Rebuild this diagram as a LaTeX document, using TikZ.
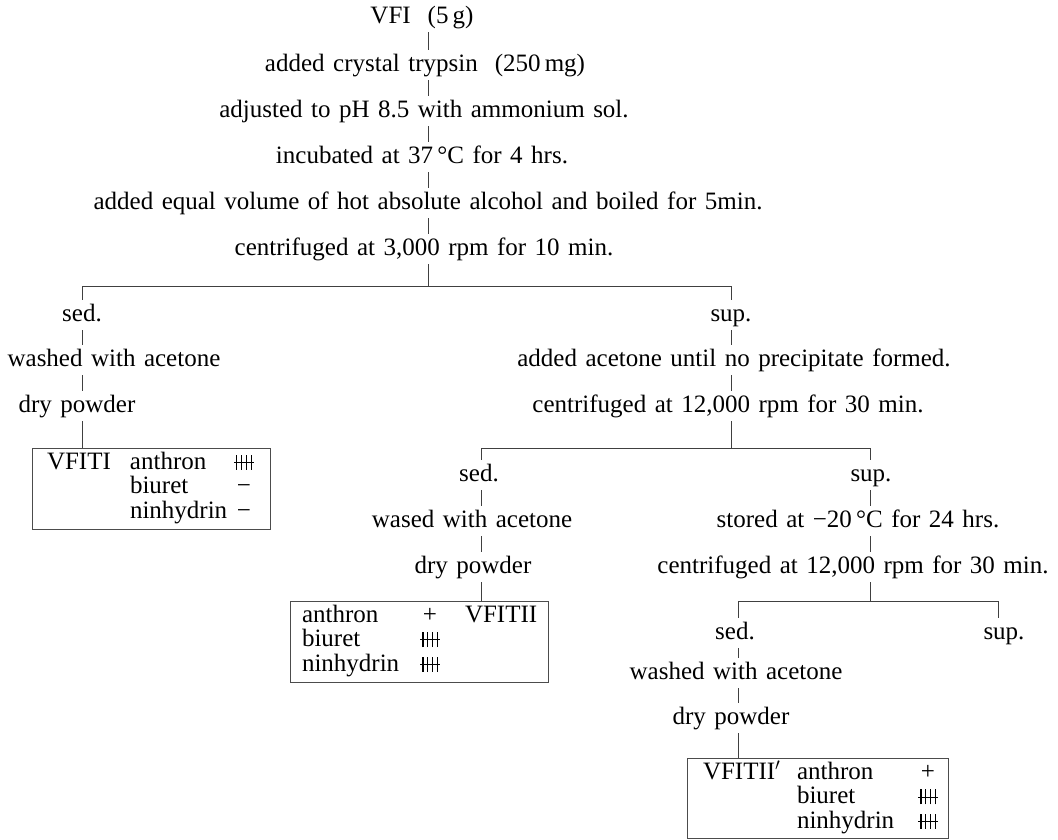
\documentclass[tikz,border=0pt]{standalone}
\usepackage{fontspec}
\setmainfont{Liberation Serif}
\newcommand{\ff}{\fontsize{25}{23.5}\selectfont\spaceskip=8.5pt\relax}
\newcommand{\tally}{\makebox[16pt][c]{\rlap{\kern-2pt\rule[6.5pt]{19.5pt}{0.8pt}}\rule[-0.5pt]{1.1pt}{15pt}\kern3.6pt\rule[-0.5pt]{1.1pt}{15pt}\kern3.6pt\rule[-0.5pt]{1.1pt}{15pt}\kern3.6pt\rule[-0.5pt]{1.1pt}{15pt}}}
\tikzset{
  lbl/.style={inner xsep=0pt, inner ysep=3pt, outer sep=0pt, text height=18pt, text depth=6pt, font=\ff},
  conn/.style={line width=0.9pt, draw=black!75},
  res/.style={draw=black!70, line width=0.8pt, anchor=north west, inner xsep=0pt, inner ysep=0pt, outer sep=0pt, align=left, font=\ff},
}
\begin{document}
\begin{tikzpicture}[x=1pt,y=-1pt]
\useasboundingbox (0,0) rectangle (1058,839);
% main column
\coordinate (s0) at (428,0);
\node[lbl] (n1) at (422,17) {VFI\ \ (5\,g)};
\node[lbl] (n2) at (425,65) {added crystal trypsin\ \ (250\,mg)};
\node[lbl] (n3) at (424,111) {adjusted to pH 8.5 with ammonium sol.};
\node[lbl] (n4) at (422,157) {incubated at 37\,°C for 4 hrs.};
\node[lbl] (n5) at (428,203) {added equal volume of hot absolute alcohol and boiled for 5min.};
\node[lbl] (n6) at (424,249) {centrifuged at 3,000 rpm for 10 min.};
\draw[conn] (n1.south -| s0) -- (n2.north -| s0);
\draw[conn] (n2.south -| s0) -- (n3.north -| s0);
\draw[conn] (n3.south -| s0) -- (n4.north -| s0);
\draw[conn] (n4.south -| s0) -- (n5.north -| s0);
\draw[conn] (n5.south -| s0) -- (n6.north -| s0);
\coordinate (j1) at (428,286);
\coordinate (j1l) at (82,286);
\coordinate (j1r) at (731,286);
\draw[conn] (n6.south -| s0) -- (j1);
\draw[conn] (j1l) -- (j1r);
% left branch
\node[lbl] (a1) at (82,315) {sed.};
\node[lbl] (a2) at (114,360) {washed with acetone};
\node[lbl] (a3) at (77,406) {dry powder};
\node[res, minimum width=238, minimum height=81, text width=238] (box1) at (32,448)
  {\begin{tabular}{@{\hspace*{15pt}}p{83pt}@{}p{106pt}@{}l@{}}
   VFITI & anthron & \tally\\
         & biuret & \makebox[16pt][c]{−}\\
         & ninhydrin & \makebox[16pt][c]{−}
   \end{tabular}};
\draw[conn] (j1l) -- (a1.north -| j1l);
\draw[conn] (a1.south -| j1l) -- (a2.north -| j1l);
\draw[conn] (a2.south -| j1l) -- (a3.north -| j1l);
\draw[conn] (a3.south -| j1l) -- (box1.north -| j1l);
% right branch
\node[lbl] (b1) at (731,315) {sup.};
\node[lbl] (b2) at (734,360) {added acetone until no precipitate formed.};
\node[lbl] (b3) at (728,406) {centrifuged at 12,000 rpm for 30 min.};
\draw[conn] (j1r) -- (b1.north -| j1r);
\draw[conn] (b1.south -| j1r) -- (b2.north -| j1r);
\draw[conn] (b2.south -| j1r) -- (b3.north -| j1r);
\coordinate (j2) at (731,448);
\coordinate (j2l) at (481,448);
\coordinate (j2r) at (870,448);
\draw[conn] (b3.south -| j1r) -- (j2);
\draw[conn] (j2l) -- (j2r);
% sub-left
\node[lbl] (c1) at (479,475) {sed.};
\node[lbl] (c2) at (472,521) {wased with acetone};
\node[lbl] (c3) at (473,567) {dry powder};
\node[res, minimum width=258, minimum height=81, text width=258] (box2) at (290,601)
  {\begin{tabular}{@{\hspace*{12pt}}p{120pt}@{}c@{\hspace{27pt}}l@{}}
   anthron & \makebox[16pt][c]{+} & VFITII\\
   biuret & \makebox[16pt][c]{\tally} & \\
   ninhydrin & \makebox[16pt][c]{\tally} &
   \end{tabular}};
\draw[conn] (j2l) -- (c1.north -| j2l);
\draw[conn] (c1.south -| j2l) -- (c2.north -| j2l);
\draw[conn] (c2.south -| j2l) -- (c3.north -| j2l);
\draw[conn] (c3.south -| j2l) -- (box2.north -| j2l);
% sub-right
\node[lbl] (d1) at (871,475) {sup.};
\node[lbl] (d2) at (858,521) {stored at −20\,°C for 24 hrs.};
\node[lbl] (d3) at (853,567) {centrifuged at 12,000 rpm for 30 min.};
\draw[conn] (j2r) -- (d1.north -| j2r);
\draw[conn] (d1.south -| j2r) -- (d2.north -| j2r);
\draw[conn] (d2.south -| j2r) -- (d3.north -| j2r);
\coordinate (j3) at (870,601);
\coordinate (j3l) at (738,601);
\coordinate (j3r) at (998,601);
\draw[conn] (d3.south -| j2r) -- (j3);
\draw[conn] (j3l) -- (j3r);
% sub-sub
\node[lbl] (e1) at (735,633) {sed.};
\node[lbl] (e2) at (736,673) {washed with acetone};
\node[lbl] (e3) at (731,718) {dry powder};
\node[lbl] (f1) at (1004,633) {sup.};
\node[res, minimum width=261, minimum height=80, text width=261] (box3) at (687,758)
  {\begin{tabular}{@{\hspace*{16pt}}p{94pt}@{}p{118pt}@{}c@{}}
   VFITII$'$ & anthron & \makebox[26pt][c]{+}\\
             & biuret & \makebox[26pt][c]{\tally}\\
             & ninhydrin & \makebox[26pt][c]{\tally}
   \end{tabular}};
\draw[conn] (j3l) -- (e1.north -| j3l);
\draw[conn] (e1.south -| j3l) -- (e2.north -| j3l);
\draw[conn] (e2.south -| j3l) -- (e3.north -| j3l);
\draw[conn] (e3.south -| j3l) -- (box3.north -| j3l);
\draw[conn] (j3r) -- (f1.north -| j3r);
\end{tikzpicture}
\end{document}
